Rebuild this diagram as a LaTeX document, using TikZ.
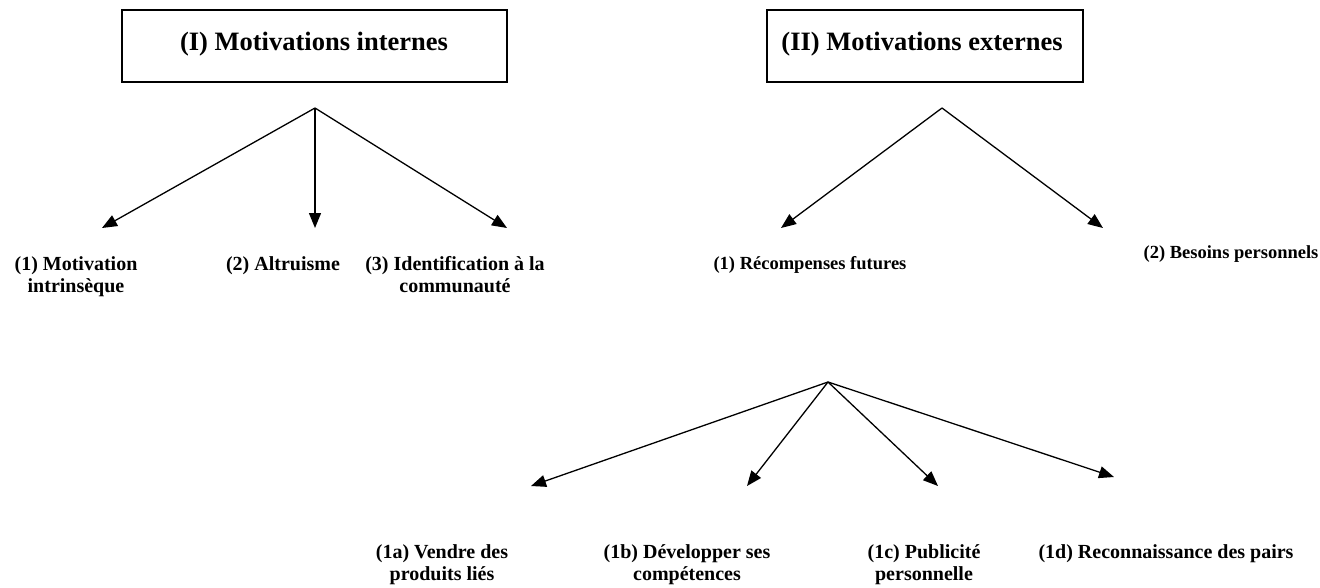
\documentclass[tikz,border=0pt]{standalone}
\usepackage{fontspec}
\setmainfont{Liberation Serif}
\usetikzlibrary{arrows.meta}
\begin{document}
\begin{tikzpicture}[x=1pt,y=-1pt,
  lbl/.style={font=\bfseries\fontsize{20}{22}\selectfont, align=center, inner sep=0pt, anchor=north},
  lbls/.style={font=\bfseries\fontsize{18.5}{21}\selectfont, align=center, inner sep=0pt, anchor=north},
  ttl/.style={font=\bfseries\fontsize{26.5}{30}\selectfont, inner sep=0pt, anchor=base},
  conn/.style={line width=1.3pt, -{Triangle[length=15pt,width=12pt]}},
  boxst/.style={draw, line width=1.3pt}]
\useasboundingbox (0,0) rectangle (1320,587);
% boxes
\draw[boxst] (122,10) rectangle (507,82);
\draw[boxst] (767,10) rectangle (1083,82);
\node[ttl] (t1) at (314,50) {(I) Motivations internes};
\node[ttl] (t2) at (922,50) {(II) Motivations externes};
% origins
\coordinate (oI) at (315,108);
\coordinate (oII) at (942,108);
\coordinate (o1) at (828,382);
% tips
\coordinate (a1) at (102,228);
\coordinate (a2) at (315,228);
\coordinate (a3) at (507,228);
\coordinate (b1) at (781,228);
\coordinate (b2) at (1103,228);
\coordinate (c1) at (531,486);
\coordinate (c2) at (747,486);
\coordinate (c3) at (938,486);
\coordinate (c4) at (1114,477);
% labels
\node[lbl] (l1) at (76,256) {(1) Motivation\\intrinsèque};
\node[lbl] (l2) at (283,256) {(2) Altruisme};
\node[lbl] (l3) at (455,256) {(3) Identification à la\\communauté};
\node[lbls] (m1) at (810,256) {(1) Récompenses futures};
\node[lbls] (m2) at (1231,245) {(2) Besoins personnels};
\node[lbl] (n1) at (442,544) {(1a) Vendre des\\produits liés};
\node[lbl] (n2) at (687,544) {(1b) Développer ses\\compétences};
\node[lbl] (n3) at (924,544) {(1c) Publicité\\personnelle};
\node[lbl] (n4) at (1166,544) {(1d) Reconnaissance des pairs};
% connectors
\draw[conn] (oI) -- (a1);
\draw[conn] (oI) -- (a2);
\draw[conn] (oI) -- (a3);
\draw[conn] (oII) -- (b1);
\draw[conn] (oII) -- (b2);
\draw[conn] (o1) -- (c1);
\draw[conn] (o1) -- (c2);
\draw[conn] (o1) -- (c3);
\draw[conn] (o1) -- (c4);
\end{tikzpicture}
\end{document}
